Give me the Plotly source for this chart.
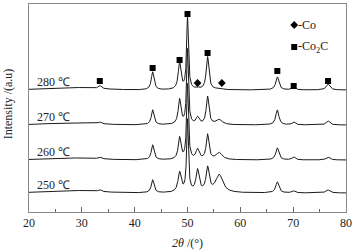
import numpy as np
import plotly.graph_objects as go

# ---- data ----
temps = ["280 ℃", "270 ℃", "260 ℃", "250 ℃"]
offsets = [122, 87, 52, 19]          # baseline intensity (a.u.) of each stacked pattern

peak_pos = [33.4, 43.4, 48.5, 50.0, 51.9, 53.8, 56.0, 67.0, 70.1, 76.6]
heights_280 = [3, 18, 27, 73, 1.5, 33, 1.5, 13, 3, 6]
heights_270 = [2, 15, 25, 75, 7, 28, 5, 15, 3, 4]
heights_260 = [2, 15, 22, 75, 10, 25, 7, 12, 3, 3]
heights_250 = [2, 13, 20, 72, 22, 24, 18, 11, 2, 3]
widths_280 = [0.35, 0.3, 0.3, 0.2, 0.35, 0.3, 0.6, 0.35, 0.35, 0.4]
widths_270 = [0.35, 0.3, 0.3, 0.2, 0.35, 0.3, 0.7, 0.35, 0.35, 0.4]
widths_260 = [0.35, 0.3, 0.3, 0.2, 0.35, 0.3, 0.7, 0.35, 0.35, 0.4]
widths_250 = [0.35, 0.3, 0.35, 0.2, 0.35, 0.35, 0.8, 0.35, 0.35, 0.45]
hump_amp = [2.5, 2.0, 2.0, 2.5]     # broad amorphous background hump

co2c_x = [33.4, 43.4, 48.5, 50.0, 53.8, 67.0, 70.1, 76.6]
co2c_y = [131, 144, 152, 198, 159, 141, 126, 131]
co_x = [51.9, 56.5]
co_y = [129, 129]

heights = [heights_280, heights_270, heights_260, heights_250]
widths = [widths_280, widths_270, widths_260, widths_250]

FONT = "Liberation Serif"
tt = np.arange(20, 80.001, 0.02)

fig = go.Figure()
for i, lab in enumerate(temps):
    y = np.full_like(tt, float(offsets[i]))
    y += hump_amp[i] * np.exp(-((tt - 28) / 7.0) ** 2)
    for p, h, w in zip(peak_pos, heights[i], widths[i]):
        y += h * w**2 / ((tt - p) ** 2 + w**2)
    fig.add_trace(go.Scatter(x=tt, y=y, mode="lines",
                             line=dict(color="#1a1a1a", width=1), showlegend=False))
    fig.add_annotation(x=21.2, y=offsets[i] + 8, text=lab, showarrow=False,
                       xanchor="left", yanchor="middle",
                       font=dict(family=FONT, size=12, color="#222"))

fig.add_trace(go.Scatter(x=co2c_x, y=co2c_y, mode="markers",
                         marker=dict(symbol="square", size=6, color="black"), showlegend=False))
fig.add_trace(go.Scatter(x=co_x, y=co_y, mode="markers",
                         marker=dict(symbol="diamond", size=6, color="black"), showlegend=False))

# legend key
fig.add_trace(go.Scatter(x=[70.2], y=[187], mode="markers",
                         marker=dict(symbol="diamond", size=6, color="black"), showlegend=False))
fig.add_trace(go.Scatter(x=[70.2], y=[165], mode="markers",
                         marker=dict(symbol="square", size=6, color="black"), showlegend=False))
fig.add_annotation(x=70.6, y=187, text="-Co", showarrow=False, xanchor="left",
                   font=dict(family=FONT, size=12, color="#222"))
fig.add_annotation(x=70.6, y=165, text="-Co<sub>2</sub>C", showarrow=False, xanchor="left",
                   font=dict(family=FONT, size=12, color="#222"))

fig.add_annotation(xref="paper", yref="paper", x=-0.068, y=0.52, text="Intensity /(a.u)",
                   textangle=-90, showarrow=False, xanchor="center", yanchor="middle",
                   font=dict(family=FONT, size=12, color="#222"))

fig.add_annotation(xref="paper", yref="paper", x=0.5, y=-0.148, text="<i>2θ</i> /(°)",
                   showarrow=False, xanchor="center", yanchor="middle",
                   font=dict(family=FONT, size=12, color="#222"))

fig.update_layout(
    width=357, height=251,
    margin=dict(l=29, r=11, t=4, b=39, autoexpand=False),
    paper_bgcolor="white", plot_bgcolor="white",
    font=dict(family=FONT, size=12, color="#222"),
    xaxis=dict(range=[20, 80], tickvals=[20, 30, 40, 50, 60, 70, 80], automargin=False,
               ticks="inside", ticklen=5, tickcolor="#666", showgrid=False, zeroline=False,
               showline=True, linecolor="#888", linewidth=1, mirror=True,
               minor=dict(tickvals=[25, 35, 45, 55, 65, 75], ticks="inside", ticklen=3, tickcolor="#666"),
               tickfont=dict(family=FONT, size=12)),
    yaxis=dict(range=[0, 208], showticklabels=False, ticks="", showgrid=False, zeroline=False,
               automargin=False,
               showline=True, linecolor="#888", linewidth=1, mirror=True),
)
fig.write_html("out.html", config={"displayModeBar": False},
               post_script="document.body.style.margin='0';document.body.style.overflow='hidden';")
